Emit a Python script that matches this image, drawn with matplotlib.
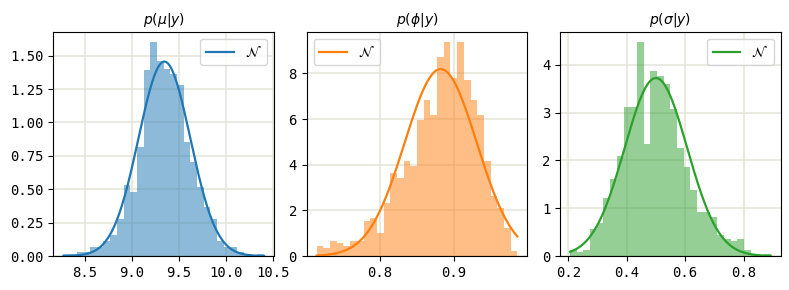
import matplotlib
matplotlib.use('Agg')
import matplotlib.pyplot as plt
import numpy as np

plt.rcParams['font.family'] = ['DejaVu Sans Mono']

titles = [r'$p(\mu|y)$', r'$p(\phi|y)$', r'$p(\sigma|y)$']
colors = ['C0', 'C1', 'C2']
legend_locs = ['upper right', 'upper left', 'upper right']

# sample range covered by the 30 histogram bins (1000 draws each)
mu_range = (8.275, 10.40)
phi_range = (0.7145, 0.9855)
sigma_range = (0.206, 0.893)

mu_counts = [1, 1, 2, 2, 5, 5, 8, 11, 20, 38, 34, 58, 99, 114, 104,
             100, 97, 91, 61, 50, 37, 26, 20, 8, 5, 5, 2, 1, 0, 1]
phi_counts = [4, 3, 6, 5, 4, 6, 6, 14, 15, 9, 21, 33, 31, 38, 36,
              54, 62, 56, 79, 85, 71, 85, 70, 62, 56, 38, 24, 19, 11, 2]
sigma_counts = [3, 2, 3, 13, 16, 28, 37, 48, 72, 72, 103, 54, 89, 87, 83,
                71, 52, 43, 32, 21, 21, 19, 10, 8, 7, 8, 3, 1, 0, 1]

# fitted normal approximations (mean, std)
mu_fit = (9.345, 0.274)
phi_fit = (0.882, 0.0487)
sigma_fit = (0.500, 0.1072)


def normal_pdf(x, m, s):
    return np.exp(-0.5 * ((x - m) / s) ** 2) / (s * np.sqrt(2 * np.pi))


def plot_posterior(ax, rng, counts, fit, color, title, loc):
    edges = np.linspace(rng[0], rng[1], len(counts) + 1)
    centers = 0.5 * (edges[:-1] + edges[1:])
    ax.hist(centers, bins=edges, weights=counts, density=True,
            histtype='stepfilled', alpha=0.5, color=color)
    xs = np.linspace(rng[0], rng[1], 300)
    ax.plot(xs, normal_pdf(xs, *fit), color=color, lw=1.6, label=r'$\mathcal{N}$')
    ax.grid(color='#e4e4da', lw=1.1)
    ax.set_axisbelow(True)
    ax.set_title(title, fontsize=10)
    ax.legend(loc=loc)


fig, axes = plt.subplots(1, 3, figsize=(7.89, 2.9), dpi=100)
fig.subplots_adjust(left=0.0676, right=0.9895, bottom=0.1172, top=0.8907, wspace=0.148)

data = [
    (mu_range, mu_counts, mu_fit),
    (phi_range, phi_counts, phi_fit),
    (sigma_range, sigma_counts, sigma_fit),
]
for ax, (rng, counts, fit), c, t, loc in zip(axes, data, colors, titles, legend_locs):
    plot_posterior(ax, rng, counts, fit, c, t, loc)

axes[1].set_yticks([0, 2, 4, 6, 8])

fig.savefig('out.png', dpi=100)
